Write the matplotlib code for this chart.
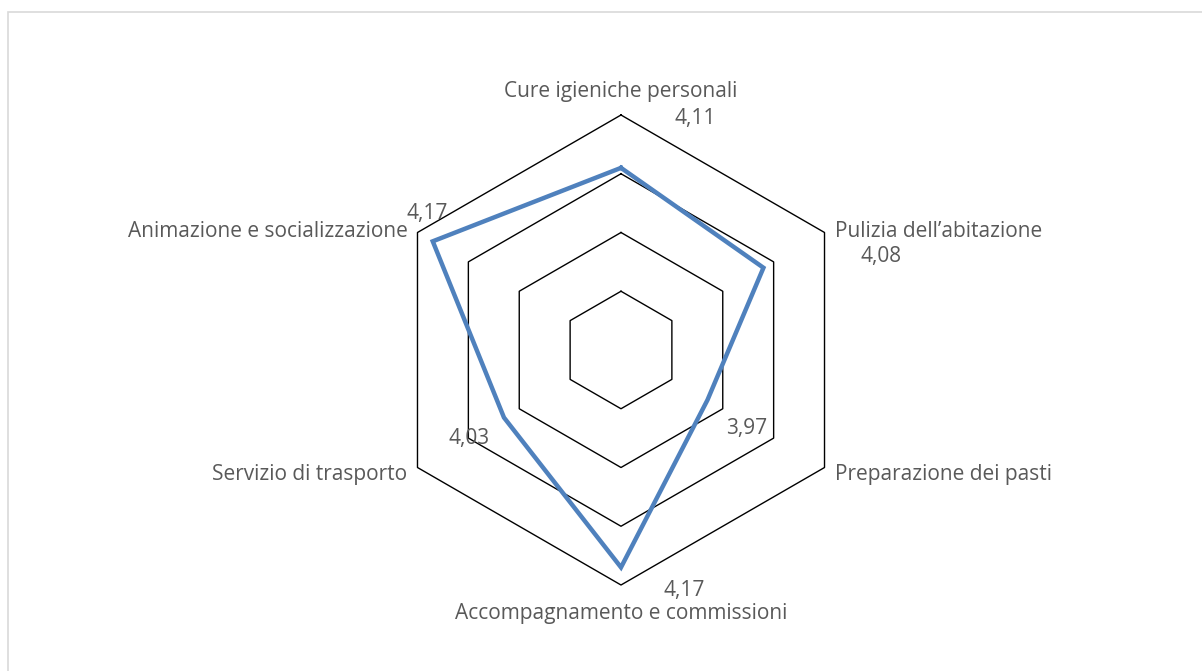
import numpy as np
import matplotlib.pyplot as plt
from matplotlib.patches import Rectangle

# Valutazione media per tipo di servizio
categories = [
    "Cure igieniche personali",
    "Pulizia dell\u2019abitazione",
    "Preparazione dei pasti",
    "Accompagnamento e commissioni",
    "Servizio di trasporto",
    "Animazione e socializzazione",
]
values = [4.11, 4.08, 3.97, 4.17, 4.03, 4.17]
value_labels = ["4,11", "4,08", "3,97", "4,17", "4,03", "4,17"]
ring_levels = [3.9, 4.0, 4.1, 4.2]
r_min = 3.8

text_color = "#595959"
line_color = "#4F81BD"
plt.rcParams["font.family"] = ["Open Sans", "DejaVu Sans"]
fs = 15

# angles: first axis on top, then clockwise
n = len(categories)
angles = np.pi / 2 - np.arange(n) * 2 * np.pi / n


def to_xy(r, a):
    rr = np.asarray(r) - r_min
    return rr * np.cos(a), rr * np.sin(a)


fig = plt.figure(figsize=(12.02, 6.71), dpi=100)
ax = fig.add_axes([0, 0, 1, 1])
scale = 235 / 0.4  # pixels per data unit
ax.set_xlim(-621 / scale, (1202 - 621) / scale)
ax.set_ylim(-321 / scale, 350 / scale)
ax.axis("off")

# hexagonal grid
for lvl in ring_levels:
    gx, gy = to_xy(np.full(n + 1, lvl), np.append(angles, angles[0]))
    ax.plot(gx, gy, color="black", lw=1.0, zorder=1)

# data polygon
dx, dy = to_xy(np.append(values, values[0]), np.append(angles, angles[0]))
ax.plot(dx, dy, color=line_color, lw=3.2, solid_joinstyle="miter", zorder=3)

# category labels just outside the outer ring
outer = ring_levels[-1]
cat_offsets = [(0, 23, "center"), (10, 1, "left"), (10, -7, "left"),
               (0, -28, "center"), (-10, -7, "right"), (-10, 1, "right")]
for cat, a, (ox, oy, ha) in zip(categories, angles, cat_offsets):
    px, py = to_xy(outer, a)
    ax.annotate(cat, (px, py), xytext=(ox, oy), textcoords="offset pixels",
                ha=ha, va="center", fontsize=fs, color=text_color)

# value labels next to each point
val_offsets = [(74, 49), (118, 11), (39, -29), (63, -23), (-35, -21), (-6, 28)]
for v, lab, a, (ox, oy) in zip(values, value_labels, angles, val_offsets):
    px, py = to_xy(v, a)
    ax.annotate(lab, (px, py), xytext=(ox, oy), textcoords="offset pixels",
                ha="center", va="center", fontsize=fs, color=text_color)

# chart area border
fig.patches.append(Rectangle((8 / 1202, -0.05), 1.1, 1 - 12 / 671 + 0.05,
                             transform=fig.transFigure, fill=False,
                             edgecolor="#D9D9D9", lw=1.2))

fig.savefig("out.png", dpi=100)
